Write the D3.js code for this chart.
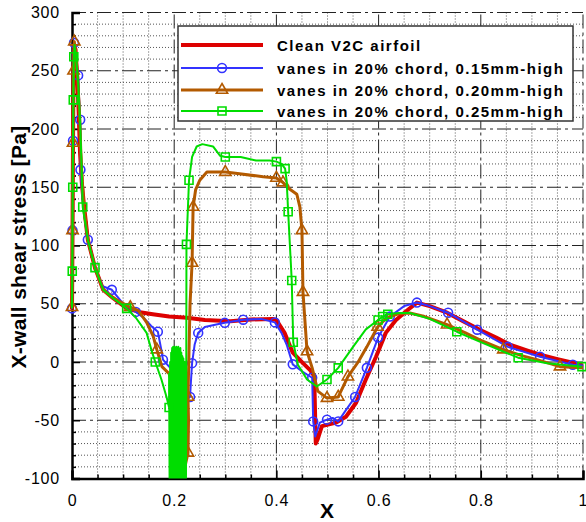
<!DOCTYPE html>
<html>
<head>
<meta charset="utf-8">
<script src="https://cdn.jsdelivr.net/npm/d3@7"></script>
<style>
  body { margin: 0; background: #fff; }
  svg { display: block; }
  text { font-family: "Liberation Sans", Arial, Helvetica, sans-serif; fill: #000; }
</style>
</head>
<body>
<svg id="chart" width="586" height="522"></svg>
<script>
// Axis ticks
const xTicks = [0, 0.2, 0.4, 0.6, 0.8, 1];
const xTickLabels = ["0", "0.2", "0.4", "0.6", "0.8", "1"];
const yTicks = [-100, -50, 0, 50, 100, 150, 200, 250, 300];
const yTickLabels = ["-100", "-50", "0", "50", "100", "150", "200", "250", "300"];

const seriesNames = [
  "Clean V2C airfoil",
  "vanes in 20% chord, 0.15mm-high",
  "vanes in 20% chord, 0.20mm-high",
  "vanes in 20% chord, 0.25mm-high"
];

// [x/c, wall shear stress (Pa), marker flag]
const cleanPts = [
  [0,45],[0.001,110],[0.002,190],[0.003,250],[0.0045,272],[0.007,268],[0.01,245],[0.013,215],
  [0.0157,180],[0.019,155],[0.0235,134],[0.031,105],[0.045,81],[0.061,62],[0.08,55],[0.104,47],
  [0.13,43],[0.158,41],[0.19,39],[0.225,38],[0.26,36],[0.31,35],[0.35,36.5],[0.393,37],
  [0.4,36],[0.416,25],[0.432,8],[0.452,-1],[0.466,-7],[0.474,-12],[0.477,-70],[0.481,-66],
  [0.489,-55],[0.517,-52],[0.536,-47],[0.556,-35],[0.575,-15],[0.595,4.5],[0.614,25],[0.634,36],
  [0.655,44],[0.675,51],[0.7,48],[0.734,42.3],[0.77,34],[0.798,27.7],[0.83,21],[0.857,14.8],
  [0.89,10],[0.916,6.3],[0.95,2.5],[0.98,-0.6],[1,-3]
];

const vanes15Pts = [
  [0,46,1],[0.0008,80],[0.001,113,1],[0.002,190,1],[0.003,250],[0.004,274,1],[0.007,265],
  [0.012,246,1],[0.014,225],[0.016,208,1],[0.017,185],[0.0165,165,1],[0.022,133],[0.031,105,1],
  [0.046,80],[0.06,65],[0.078,62,1],[0.1,50],[0.125,43,1],[0.14,38],[0.155,31],[0.168,26,1],
  [0.175,10],[0.178,2,1],[0.19,-4],[0.196,-6],[0.205,-18],[0.215,-30],[0.225,-32],[0.231,-30,1],
  [0.233,-15],[0.235,-1,1],[0.24,15],[0.247,25,1],[0.26,30],[0.28,32],[0.299,33.6,1],
  [0.335,36.3,1],[0.37,37],[0.397,34,1],[0.41,25],[0.42,15],[0.432,-2,1],[0.45,-8],[0.47,-13.5,1],
  [0.472,-51,1],[0.476,-64],[0.485,-52],[0.499,-49.5,1],[0.51,-48],[0.521,-51,1],[0.535,-42],
  [0.554,-30,1],[0.577,-5,1],[0.599,21,1],[0.622,39,1],[0.65,48],[0.675,51,1],[0.7,48],
  [0.736,42.3,1],[0.793,27.7,1],[0.853,13,1],[0.916,4.5,1],[0.98,-2.3,1],[1,-3]
];

const vanes20Pts = [
  [0,47,1],[0.001,113,1],[0.0015,150],[0.002,188,1],[0.003,250,1],[0.0045,275,1],[0.007,266],
  [0.011,245],[0.015,210],[0.018,170],[0.023,134],[0.031,105],[0.045,81],[0.061,62],[0.08,55],
  [0.114,47,1],[0.13,44],[0.146,34],[0.159,22],[0.166,10.6,1],[0.176,-4],[0.19,-10],[0.2,-25],
  [0.21,-55],[0.218,-80],[0.222,-88],[0.227,-78,1],[0.228,-50],[0.227,-30,1],[0.229,10],
  [0.231,50],[0.235,85,1],[0.237,133,1],[0.242,148],[0.25,156],[0.264,163],[0.285,163],
  [0.3,163,1],[0.32,162],[0.374,159],[0.4,158,1],[0.413,154,1],[0.427,148],[0.44,144],
  [0.446,133],[0.45,113,1],[0.452,60,1],[0.46,9,1],[0.47,-5],[0.481,-25],[0.499,-31,1],
  [0.521,-30,1],[0.54,-12.6,1],[0.56,0],[0.577,13],[0.598,30,1],[0.616,38],[0.64,41.5],
  [0.661,42],[0.69,39],[0.734,32,1],[0.77,25],[0.798,19],[0.844,10.6,1],[0.88,5.5],[0.91,2],
  [0.955,-4,1],[1,-5]
];

const vanes25Pts = [
  [0,46],[0.0005,78,1],[0.001,113],[0.0015,150,1],[0.002,190],[0.0025,225,1],[0.0035,262,1],
  [0.005,272],[0.008,262],[0.012,240],[0.016,205],[0.019,165],[0.021,133,1],[0.031,105],
  [0.045,81,1],[0.061,62],[0.08,55],[0.107,46,1],[0.125,38],[0.146,25],[0.157,8],[0.163,0,1],
  [0.175,-15],[0.185,-30],[0.19,-39,1],
  [0.190,-10],[0.191,-105],[0.192,0],[0.193,-105],[0.194,8],[0.195,-105],[0.196,12],[0.197,-105],
  [0.198,13],[0.199,-105],[0.200,13],[0.201,-105],[0.202,12],[0.203,-105],[0.204,13],[0.205,-105],
  [0.206,12],[0.207,-105],[0.208,13],[0.209,-105],[0.210,11],[0.211,-105],[0.212,12],[0.213,-105],
  [0.214,8],[0.215,-105],[0.216,5],[0.217,-105],[0.218,3],[0.219,-105],[0.220,0],[0.221,-105],
  [0.222,-20],[0.223,-105],[0.2235,-40],
  [0.224,101,1],[0.229,156,1],[0.235,176],[0.244,185],[0.255,187],[0.276,185],[0.29,177],
  [0.3,176,1],[0.33,176],[0.36,173],[0.387,173],[0.4,172,1],[0.41,170],[0.417,166,1],
  [0.42,156],[0.423,129,1],[0.43,70,1],[0.433,17,1],[0.442,-2.3],[0.46,-15],[0.479,-21],
  [0.499,-15,1],[0.521,-5,1],[0.55,13],[0.575,28],[0.599,36,1],[0.608,39,1],[0.618,41,1],
  [0.64,42],[0.661,42],[0.7,37],[0.753,26,1],[0.8,17],[0.873,3.7,1],[0.93,-1],[0.998,-4,1]
];

const seriesColors = ["#dd0000", "#3333ff", "#b35a00", "#00dd00"];

const svg = d3.select("#chart");
const x = d3.scaleLinear().domain([0, 1]).range([72, 583]);
const y = d3.scaleLinear().domain([-100, 300]).range([478.5, 12.5]);

// Grid: dotted minor lines, dash-dot major lines
const grid = svg.append("g");
const xMinor = d3.range(0.05, 1, 0.05).filter(v => Math.abs(v / 0.2 - Math.round(v / 0.2)) > 1e-6);
const yMinor = d3.range(-90, 300, 10).filter(v => v % 50 !== 0);
grid.selectAll(".xm").data(xMinor).join("line")
  .attr("x1", d => x(d)).attr("x2", d => x(d)).attr("y1", y(-100)).attr("y2", y(300))
  .attr("stroke", "#555").attr("stroke-width", 1).attr("stroke-dasharray", "1,2");
grid.selectAll(".ym").data(yMinor).join("line")
  .attr("x1", x(0)).attr("x2", x(1)).attr("y1", d => y(d)).attr("y2", d => y(d))
  .attr("stroke", "#555").attr("stroke-width", 1).attr("stroke-dasharray", "1,2");
grid.selectAll(".xM").data(xTicks.slice(1)).join("line")
  .attr("x1", d => x(d)).attr("x2", d => x(d)).attr("y1", y(-100)).attr("y2", y(300))
  .attr("stroke", "#222").attr("stroke-width", 1).attr("stroke-dasharray", "14,4,3,4");
grid.selectAll(".yM").data(yTicks.slice(1)).join("line")
  .attr("x1", x(0)).attr("x2", x(1)).attr("y1", d => y(d)).attr("y2", d => y(d))
  .attr("stroke", "#222").attr("stroke-width", 1).attr("stroke-dasharray", "14,4,3,4");

// Axes: left and bottom with inward ticks
const xAxis = d3.axisBottom(x).tickValues(xTicks).tickFormat((d, i) => xTickLabels[i]).tickSize(-8).tickPadding(12);
const xAxisMinor = d3.axisBottom(x).tickValues(xMinor).tickFormat("").tickSize(-4);
const yAxis = d3.axisLeft(y).tickValues(yTicks).tickFormat((d, i) => yTickLabels[i]).tickSize(-8).tickPadding(12);
const yAxisMinor = d3.axisLeft(y).tickValues(yMinor).tickFormat("").tickSize(-4);

const gx = svg.append("g").attr("transform", `translate(0,${y(-100)})`).call(xAxis);
svg.append("g").attr("transform", `translate(0,${y(-100)})`).call(xAxisMinor).select(".domain").remove();
const gy = svg.append("g").attr("transform", `translate(${x(0)},0)`).call(yAxis);
svg.append("g").attr("transform", `translate(${x(0)},0)`).call(yAxisMinor).select(".domain").remove();
svg.selectAll(".tick line").attr("stroke", "#000").attr("stroke-width", 1.5);
[gx, gy].forEach(g => g.select(".domain").attr("stroke", "#000").attr("stroke-width", 2.5));
gx.selectAll("text").attr("font-size", 16).attr("letter-spacing", "0.8px").attr("fill", "#000")
  .attr("font-family", "Liberation Sans, Arial, sans-serif").attr("dy", "0.95em");
// The last label sits at the right window edge: anchor it at its end
gx.selectAll(".tick").filter(d => d === 1).select("text")
  .attr("text-anchor", "end").attr("dx", "4").attr("letter-spacing", "0px");
gy.selectAll("text").attr("font-size", 16).attr("letter-spacing", "0.8px").attr("fill", "#000")
  .attr("font-family", "Liberation Sans, Arial, sans-serif");

// Axis titles
svg.append("text").attr("x", 327).attr("y", 518).attr("text-anchor", "middle")
  .attr("font-size", 21).attr("font-weight", "bold").text("X");
svg.append("text").attr("transform", "translate(26,247) rotate(-90)").attr("text-anchor", "middle")
  .attr("font-size", 21).attr("font-weight", "bold").attr("letter-spacing", "0.3px")
  .text("X-wall shear stress [Pa]");

// Data curves
svg.append("clipPath").attr("id", "plotClip").append("rect")
  .attr("x", 0).attr("y", 0).attr("width", 586).attr("height", y(-100));

const seriesList = [
  { name: seriesNames[0], pts: cleanPts, color: seriesColors[0], width: 4, symbol: null },
  { name: seriesNames[1], pts: vanes15Pts, color: seriesColors[1], width: 2, symbol: d3.symbolCircle, size: 62 },
  { name: seriesNames[2], pts: vanes20Pts, color: seriesColors[2], width: 3, symbol: d3.symbolTriangle, size: 55 },
  { name: seriesNames[3], pts: vanes25Pts, color: seriesColors[3], width: 2, symbol: d3.symbolSquare, size: 64 }
];

const line = d3.line().x(d => x(d[0])).y(d => y(d[1]));
const plot = svg.append("g").attr("clip-path", "url(#plotClip)");

seriesList.forEach(s => {
  plot.append("path").datum(s.pts).attr("d", line)
    .attr("fill", "none").attr("stroke", s.color).attr("stroke-width", s.width)
    .attr("stroke-linejoin", "round");
  if (s.symbol) {
    plot.selectAll(null).data(s.pts.filter(d => d[2])).join("path")
      .attr("d", d3.symbol().type(s.symbol).size(s.size))
      .attr("transform", d => `translate(${x(d[0])},${y(d[1])})`)
      .attr("fill", "none").attr("stroke", s.color).attr("stroke-width", 1.6);
  }
});

// Legend
const legend = svg.append("g");
legend.append("rect").attr("x", 178).attr("y", 26).attr("width", 395).attr("height", 95)
  .attr("fill", "#fff").attr("stroke", "#333").attr("stroke-width", 1.5);
const rowY = [45, 68, 90, 111];
seriesList.forEach((s, i) => {
  const g = legend.append("g").attr("transform", `translate(0,${rowY[i]})`);
  g.append("line").attr("x1", 181).attr("x2", 263).attr("y1", 0).attr("y2", 0)
    .attr("stroke", s.color).attr("stroke-width", s.width);
  if (s.symbol) {
    g.append("path").attr("d", d3.symbol().type(s.symbol).size(s.size))
      .attr("transform", "translate(222,0)")
      .attr("fill", "none").attr("stroke", s.color).attr("stroke-width", 1.6);
  }
  g.append("text").attr("x", 277).attr("y", 5.5)
    .attr("font-size", 15).attr("font-weight", "bold").attr("letter-spacing", "1.5px")
    .text(s.name);
});
</script>
</body>
</html>
